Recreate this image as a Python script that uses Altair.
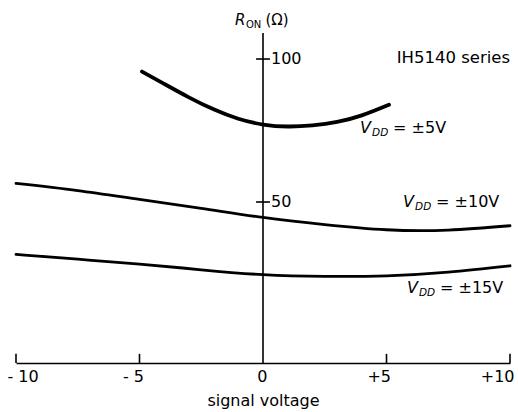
import altair as alt
import pandas as pd

# On-resistance R_ON (ohms) against signal voltage (V) for three supply levels
v_5 = [-4.9, -4, -3, -2, -1, 0, 1, 2, 3, 4, 5.1]
r_5 = [95.6, 91.3, 86.6, 82.4, 79.1, 77.1, 76.4, 76.8, 78.0, 80.3, 84.0]

v_10 = [-10, -7.5, -5, -2.5, 0, 2.5, 5, 7.5, 10]
r_10 = [56.5, 54.0, 50.9, 47.8, 44.6, 42.1, 40.3, 40.2, 41.7]

v_15 = [-10, -7.5, -5, -2.5, 0, 2.5, 5, 7.5, 10]
r_15 = [31.7, 30.0, 28.3, 26.3, 24.6, 24.0, 24.2, 25.5, 27.7]

x_ticks = [-10, -5, 0, 5, 10]
x_up_ticks = [-10, -5, 5, 10]
y_ticks = [50, 100]
y_tick_labels = ["50", "100"]

x_domain = [-10, 10]
y_domain = [-6.3, 109.1]

supply_labels = ["= \u00b15V", "= \u00b110V", "= \u00b115V"]

FONT = "DejaVu Sans"

curves = pd.concat([
    pd.DataFrame({"v": v_5, "r": r_5, "supply": "5", "w": 3.8}),
    pd.DataFrame({"v": v_10, "r": r_10, "supply": "10", "w": 2.8}),
    pd.DataFrame({"v": v_15, "r": r_15, "supply": "15", "w": 2.8}),
], ignore_index=True)

x_scale = alt.Scale(domain=x_domain, nice=False, zero=False)
y_scale = alt.Scale(domain=y_domain, nice=False, zero=False)

x_axis = alt.Axis(
    values=x_ticks,
    ticks=False,
    grid=False,
    domainColor="black",
    domainWidth=1.6,
    labelFont=FONT,
    labelFontSize=16,
    labelColor="black",
    labelPadding=5,
    labelFlush=False,
    labelExpr="datum.value > 0 ? '+' + datum.value : (datum.value < 0 ? '- ' + abs(datum.value) : '0')",
    labelAlign={"condition": {"test": "datum.value < -9", "value": "left"}, "value": "right"},
    labelOffset={"condition": {"test": "datum.value < -9", "value": -9}, "value": 4},
    title="signal voltage",
    titleFont=FONT,
    titleFontSize=16,
    titleFontWeight="normal",
    titleColor="black",
    titlePadding=8,
)

X = alt.X("v:Q", scale=x_scale, axis=x_axis)
Y = alt.Y("r:Q", scale=y_scale, axis=None)

lines = alt.Chart(curves).mark_line(color="black", interpolate="natural", strokeCap="round").encode(
    x=X, y=Y, detail="supply:N",
    strokeWidth=alt.StrokeWidth("w:Q", scale=None),
)

# vertical R_ON axis through zero signal voltage
v_axis = alt.Chart(pd.DataFrame({"v": [0], "r": [y_domain[0]], "r2": [y_domain[1]]})).mark_rule(
    color="black", strokeWidth=1.6
).encode(x=X, y=Y, y2="r2:Q")

# crossing ticks on the R_ON axis
y_tick_df = pd.DataFrame({"v": [-0.28] * len(y_ticks), "v2": [0.28] * len(y_ticks), "r": y_ticks})
y_tick_marks = alt.Chart(y_tick_df).mark_rule(color="black", strokeWidth=1.6).encode(
    x=X, x2="v2:Q", y=Y
)

y_label_df = pd.DataFrame({"v": [0] * len(y_ticks), "r": y_ticks, "t": y_tick_labels})
y_labels = alt.Chart(y_label_df).mark_text(
    font=FONT, fontSize=16, align="left", baseline="middle", dx=8, color="black"
).encode(x=X, y=Y, text="t:N")

# upward ticks on the signal-voltage axis
x_tick_df = pd.DataFrame({"v": x_up_ticks, "r": [y_domain[0]] * len(x_up_ticks),
                          "r2": [y_domain[0] + 3.2] * len(x_up_ticks)})
x_tick_marks = alt.Chart(x_tick_df).mark_rule(color="black", strokeWidth=1.6).encode(
    x=X, y=Y, y2="r2:Q"
)

# axis caption R_ON (Ω)
r_main = alt.Chart(pd.DataFrame({"v": [-1.13], "r": [111.9], "t": ["R"]})).mark_text(
    font=FONT, fontSize=15, fontStyle="italic", align="left", baseline="alphabetic", color="black"
).encode(x=X, y=Y, text="t:N")
r_sub = alt.Chart(pd.DataFrame({"v": [-0.69], "r": [111.0], "t": ["ON"]})).mark_text(
    font=FONT, fontSize=10, align="left", baseline="alphabetic", color="black"
).encode(x=X, y=Y, text="t:N")
r_unit = alt.Chart(pd.DataFrame({"v": [0.1], "r": [111.9], "t": ["(\u03a9)"]})).mark_text(
    font=FONT, fontSize=15, align="left", baseline="alphabetic", color="black"
).encode(x=X, y=Y, text="t:N")

series_note = alt.Chart(pd.DataFrame({"v": [10.0], "r": [98.6], "t": ["IH5140 series"]})).mark_text(
    font=FONT, fontSize=16.5, align="right", baseline="alphabetic", color="black"
).encode(x=X, y=Y, text="t:N")

# curve labels V_DD = ±n V
lab_df = pd.DataFrame({
    "v": [3.93, 5.67, 5.83],
    "r": [74.1, 48.25, 18.2],
    "t": supply_labels,
})
lab_v = alt.Chart(lab_df).mark_text(
    font=FONT, fontSize=16, fontStyle="italic", align="left", baseline="alphabetic", color="black"
).encode(x=X, y=Y, text=alt.value("V"))
lab_dd = alt.Chart(lab_df).mark_text(
    font=FONT, fontSize=10.5, fontStyle="italic", align="left", baseline="alphabetic",
    dx=12, dy=3, color="black"
).encode(x=X, y=Y, text=alt.value("DD"))
lab_rest = alt.Chart(lab_df).mark_text(
    font=FONT, fontSize=16, align="left", baseline="alphabetic", dx=33, color="black"
).encode(x=X, y=Y, text="t:N")

chart = alt.layer(
    v_axis, y_tick_marks, x_tick_marks, lines, y_labels,
    r_main, r_sub, r_unit, series_note, lab_v, lab_dd, lab_rest,
).properties(
    width=494, height=330,
    padding={"left": 16, "top": 33, "right": 8, "bottom": 49},
    autosize=alt.AutoSizeParams(type="none"),
    background="white",
).configure_view(stroke=None)

chart.save("out.html", embed_options={"renderer": "svg", "actions": False})
